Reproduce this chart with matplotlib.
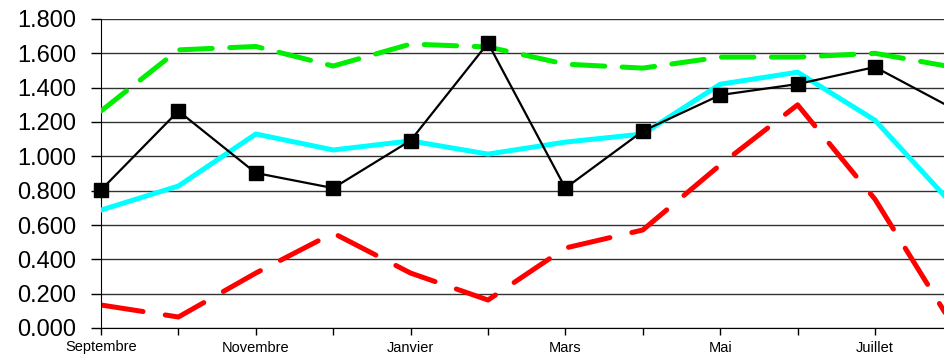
import matplotlib
matplotlib.use('Agg')
import matplotlib.pyplot as plt
from matplotlib.patches import Rectangle

plt.rcParams['font.family'] = ['Liberation Sans', 'DejaVu Sans']

mois = ['Septembre', 'Octobre', 'Novembre', 'Décembre', 'Janvier', 'Février',
        'Mars', 'Avril', 'Mai', 'Juin', 'Juillet', 'Août']

noir = [0.804, 1.264, 0.903, 0.815, 1.092, 1.660, 0.815, 1.147, 1.357, 1.421, 1.520, 1.28]
cyan = [0.687, 0.827, 1.130, 1.037, 1.090, 1.013, 1.083, 1.130, 1.420, 1.490, 1.210, 0.72]
vert = [1.264, 1.620, 1.640, 1.526, 1.654, 1.637, 1.537, 1.514, 1.578, 1.578, 1.600, 1.52]
rouge = [0.134, 0.064, 0.320, 0.553, 0.320, 0.163, 0.466, 0.571, 0.950, 1.300, 0.750, 0.02]

yticks = [0.0, 0.2, 0.4, 0.6, 0.8, 1.0, 1.2, 1.4, 1.6, 1.8]

fig = plt.figure(figsize=(9.44, 3.61), dpi=100)
ax = fig.add_axes([101 / 944, 33 / 361, 1 - 101 / 944, 309 / 361])

x = range(len(mois))
ax.plot(x, rouge, color='#ff0000', lw=3.6, dashes=(8.5, 4.5),
        dash_capstyle='round', zorder=2)
ax.plot(x, vert, color='#00ee00', lw=3.6, dashes=(6.5, 3.5), dash_capstyle='round', zorder=3)
ax.plot(x, cyan, color='#00ffff', lw=3.6, zorder=4)
ligne, = ax.plot(x, noir, color='black', lw=1.6, marker='s', markersize=10, zorder=5)

# clip only on the right so the first marker is not cut by the y axis
clip = Rectangle((-0.05, -0.05), 1.05, 1.1, transform=ax.transAxes, visible=False)
ax.add_patch(clip)
ligne.set_clip_path(clip)

ax.set_yticks(yticks)
ax.set_yticklabels([f'{v:.3f}' for v in yticks], fontsize=17)
ax.set_xticks(list(x))
ax.set_xticklabels([m if i % 2 == 0 else '' for i, m in enumerate(mois)], fontsize=10.5)
# the picture is cut just before Août
ax.set_xlim(0, 843 / 77.4)
ax.set_ylim(0, 1.8)

ax.grid(axis='y', color='#333333', lw=1.0)
ax.set_axisbelow(True)
ax.tick_params(axis='y', length=7, width=1, pad=11)
ax.tick_params(axis='x', length=5, width=1, pad=4)
ax.spines['top'].set_visible(False)
ax.spines['right'].set_visible(False)

fig.savefig('out.png', dpi=100)
